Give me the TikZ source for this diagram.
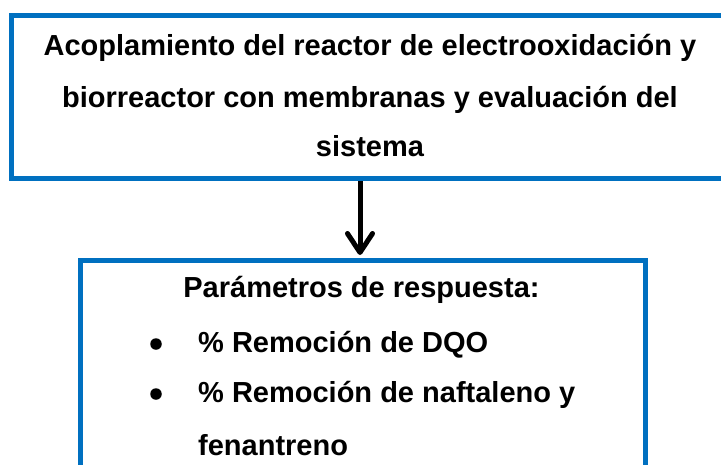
\documentclass[tikz,border=0pt]{standalone}
\usepackage{fontspec}
\setmainfont{Liberation Sans}
\usetikzlibrary{arrows.meta}
\definecolor{boxblue}{RGB}{0,112,192}
\begin{document}
\begin{tikzpicture}[x=1pt,y=-1pt,
  box/.style={draw=boxblue, line width=5pt, fill=white, inner sep=0pt, rectangle},
  txt/.style={inner sep=0pt, font=\fontsize{29}{50}\selectfont\bfseries},
  bullet/.style={circle, fill=black, inner sep=0pt, minimum size=11.5pt},
  conn/.style={line width=5pt, black, -{Straight Barb[length=19pt,width=25pt,line cap=round,line join=round]}}]
\useasboundingbox (0,0) rectangle (721,464);
\fill[white] (0,0) rectangle (721,464);
% top box
\node[box, minimum width=717pt, minimum height=163pt] (top) at (370,97) {};
\node[txt, anchor=base] (t1) at (370,55) {Acoplamiento del reactor de electrooxidación y};
\node[txt, anchor=base] (t2) at (370,107) {biorreactor con membranas y evaluación del};
\node[txt, anchor=base] (t3) at (370,156) {sistema};
% bottom box
\node[box, minimum width=565pt, minimum height=220pt] (bot) at (362.5,370) {};
\node[txt, anchor=base] (b0) at (361.5,297) {Parámetros de respuesta:};
\node[bullet] (d1) at (156,344) {};
\node[bullet] (d2) at (156,394) {};
\node[txt, anchor=base west] (b1) at (198,352) {\% Remoción de DQO};
\node[txt, anchor=base west] (b2) at (198,402) {\% Remoción de naftaleno y};
\node[txt, anchor=base west] (b3) at (198,455) {fenantreno};
% arrow
\coordinate (tip) at (360,255);
\draw[conn] (top.south -| tip) -- (tip);
\end{tikzpicture}
\end{document}
